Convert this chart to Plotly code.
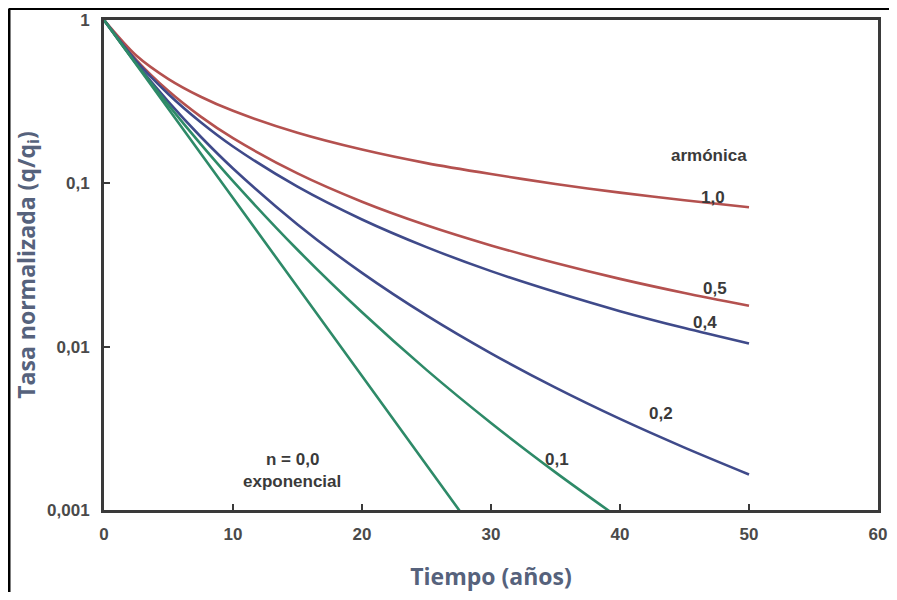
import math
import plotly.graph_objects as go

# Time (years) sample points
t_hyp = [0, 2.5, 5, 7.5, 10, 15, 20, 25, 30, 35, 40, 45, 50]
t_n01 = [0, 2.5, 5, 7.5, 10, 15, 20, 25, 30, 35, 40]
t_n00 = [0, 10, 20, 30]

# Normalized rate q/qi
q_n10 = [1, 0.606, 0.435, 0.339, 0.278, 0.204, 0.161, 0.133, 0.114, 0.099, 0.0877, 0.0787, 0.0714]
q_n05 = [1, 0.570, 0.367, 0.256, 0.189, 0.115, 0.0772, 0.0554, 0.0417, 0.0325, 0.0260, 0.0213, 0.0178]
q_n04 = [1, 0.561, 0.351, 0.2366, 0.1682, 0.0954, 0.0601, 0.0407, 0.0290, 0.0216, 0.0165, 0.0130, 0.01045]
q_n02 = [1, 0.543, 0.315, 0.1928, 0.1233, 0.0560, 0.0283, 0.01554, 0.00910, 0.00561, 0.00361, 0.00241, 0.00165]
q_n01 = [1, 0.539, 0.301, 0.1738, 0.1032, 0.0392, 0.01623, 0.00721, 0.00341, 0.00170, 0.000884]
q_n00 = [1, 0.0813, 0.00661, 0.000537]

x_ticks = [0, 10, 20, 30, 40, 50, 60]
x_ticklabels = ["0", "10", "20", "30", "40", "50", "60"]
y_ticks = [0.001, 0.01, 0.1, 1]
y_ticklabels = ["0,001", "0,01", "0,1", "1"]

RED = "#b4514f"
BLUE = "#3f4a8a"
GREEN = "#2e8a68"

series = [
    ("n = 1,0", t_hyp, q_n10, RED),
    ("n = 0,5", t_hyp, q_n05, RED),
    ("n = 0,4", t_hyp, q_n04, BLUE),
    ("n = 0,2", t_hyp, q_n02, BLUE),
    ("n = 0,1", t_n01, q_n01, GREEN),
    ("n = 0,0", t_n00, q_n00, GREEN),
]

fig = go.Figure()
for name, tx, qy, col in series:
    fig.add_trace(go.Scatter(
        x=tx, y=qy, mode="lines", name=name,
        line=dict(color=col, width=2.6, shape="spline", smoothing=0.8),
        showlegend=False,
    ))

labels = [
    ("armónica", 46.9, 0.148),
    ("1,0", 47.2, 0.082),
    ("0,5", 47.4, 0.0227),
    ("0,4", 46.6, 0.0140),
    ("0,2", 43.2, 0.00388),
    ("0,1", 35.1, 0.00203),
    ("n = 0,0", 14.6, 0.00203),
    ("exponencial", 14.6, 0.00149),
]
for txt, lx, ly in labels:
    fig.add_annotation(
        x=lx, y=math.log10(ly), text=txt, showarrow=False,
        font=dict(family="Liberation Sans", size=17, color="#3a3a3a", weight="bold"),
    )

axis_common = dict(
    showline=True, linewidth=3, linecolor="#3a3a3a", mirror=True,
    showgrid=False, zeroline=False, automargin=False,
    ticks="inside", ticklen=6, tickwidth=2, tickcolor="#3a3a3a",
    tickfont=dict(family="Liberation Sans", size=17, color="#4a4a4a", weight="bold"),
)

W, H = 889, 584
L, T, R, B = 96, 12, 19, 82
pw, ph = W - L - R, H - T - B

fig.update_layout(
    width=W, height=H,
    margin=dict(l=L, r=R, t=T, b=B),
    paper_bgcolor="white", plot_bgcolor="white",
    xaxis=dict(
        range=[0, 60], tickvals=x_ticks, ticktext=x_ticklabels,
        ticklabelstandoff=7,
        title=dict(text="Tiempo (años)", standoff=27,
                   font=dict(family="Open Sans", size=23, color="#56627c", weight="bold")),
        **axis_common,
    ),
    yaxis=dict(
        type="log", range=[-3, 0], tickvals=y_ticks, ticktext=y_ticklabels,
        ticklabelstandoff=8,
        title=dict(text="Tasa normalizada (q/q<sub>i</sub>)", standoff=6,
                   font=dict(family="Open Sans", size=23, color="#56627c", weight="bold")),
        **axis_common,
    ),
    shapes=[
        dict(type="line", xref="paper", yref="paper",
             x0=(1 - L) / pw, x1=(1 - L) / pw, y0=-0.3, y1=1 + (T - 0.5) / ph,
             line=dict(color="black", width=3)),
        dict(type="line", xref="paper", yref="paper",
             x0=(1 - L) / pw, x1=1.05, y0=1 + (T - 0.5) / ph, y1=1 + (T - 0.5) / ph,
             line=dict(color="black", width=3)),
    ],
)

fig.write_html("out.html")
